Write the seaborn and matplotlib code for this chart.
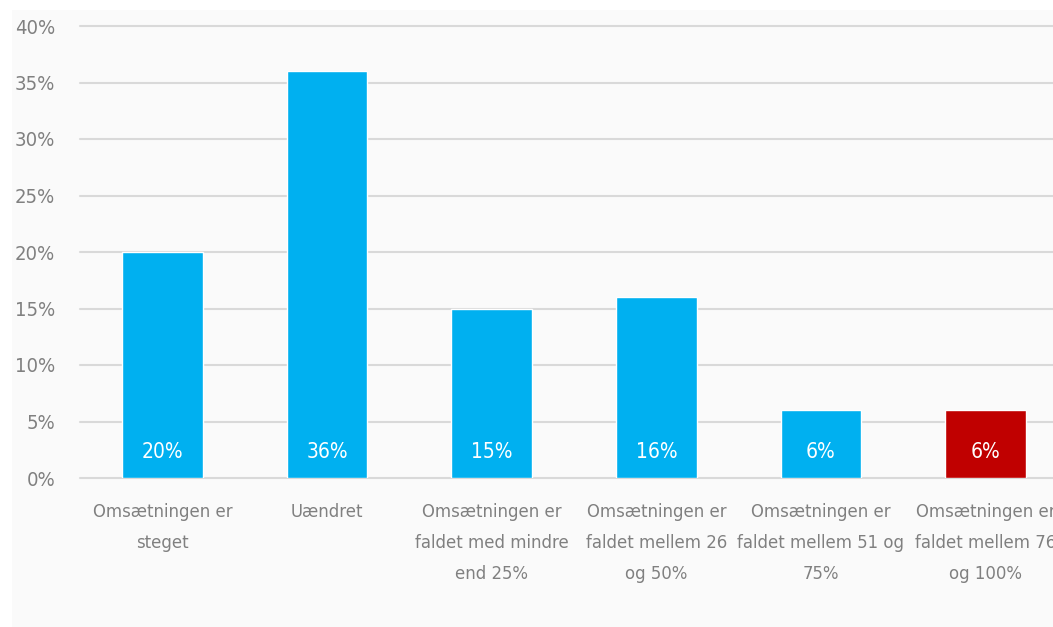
import matplotlib
matplotlib.use("Agg")
import matplotlib.pyplot as plt
from matplotlib.patches import Rectangle
from matplotlib.ticker import FuncFormatter
import seaborn as sns
import pandas as pd

categories = [
    "Omsætningen er\nsteget",
    "Uændret",
    "Omsætningen er\nfaldet med mindre\nend 25%",
    "Omsætningen er\nfaldet mellem 26\nog 50%",
    "Omsætningen er\nfaldet mellem 51 og\n75%",
    "Omsætningen er\nfaldet mellem 76\nog 100%",
]
shares = [20, 36, 15, 16, 6, 6]
bar_colors = ["#00B0F0", "#00B0F0", "#00B0F0", "#00B0F0", "#00B0F0", "#C00000"]
y_ticks = [0, 5, 10, 15, 20, 25, 30, 35, 40]

df = pd.DataFrame({"kategori": categories, "andel": shares})

sns.set_theme(style="white")
plt.rcParams["font.family"] = ["DejaVu Sans"]
plt.rcParams["font.stretch"] = "condensed"

fig = plt.figure(figsize=(10.53, 6.27), dpi=100)
fig.patch.set_facecolor("white")
fig.patches.append(Rectangle((12 / 1053, 0), 1, 1 - 10 / 627,
                             transform=fig.transFigure, facecolor="#fafafa",
                             edgecolor="none", zorder=-10))

ax = fig.add_axes([80 / 1053, 1 - 478 / 627, 988 / 1053, (478 - 26) / 627])
ax.set_facecolor("none")

sns.barplot(data=df, x="kategori", y="andel", hue="kategori",
            palette=bar_colors, legend=False, width=0.49, saturation=1,
            ax=ax, zorder=3)

ax.set_ylim(0, 40)
ax.set_xlim(-0.5, len(categories) - 0.5)
ax.set_yticks(y_ticks)
ax.yaxis.set_major_formatter(FuncFormatter(lambda v, _: f"{v:.0f}%"))
ax.grid(axis="y", color="#d9d9d9", linewidth=1.5, zorder=0)
for gl in ax.get_ygridlines():
    gl.set_clip_on(False)
ax.set_axisbelow(True)
for s in ax.spines.values():
    s.set_visible(False)
ax.set_xlabel("")
ax.set_ylabel("")
ax.tick_params(axis="y", colors="#808080", labelsize=14.5, length=0, pad=18)
ax.tick_params(axis="x", colors="#808080", labelsize=13.2, length=0, pad=18)
for lbl in ax.get_xticklabels():
    lbl.set_linespacing(1.92)

for i, v in enumerate(shares):
    ax.text(i, 2.3, f"{v}%", ha="center", va="center", color="white",
            fontsize=15, zorder=4)

fig.savefig("out.png", dpi=100, facecolor=fig.get_facecolor())
